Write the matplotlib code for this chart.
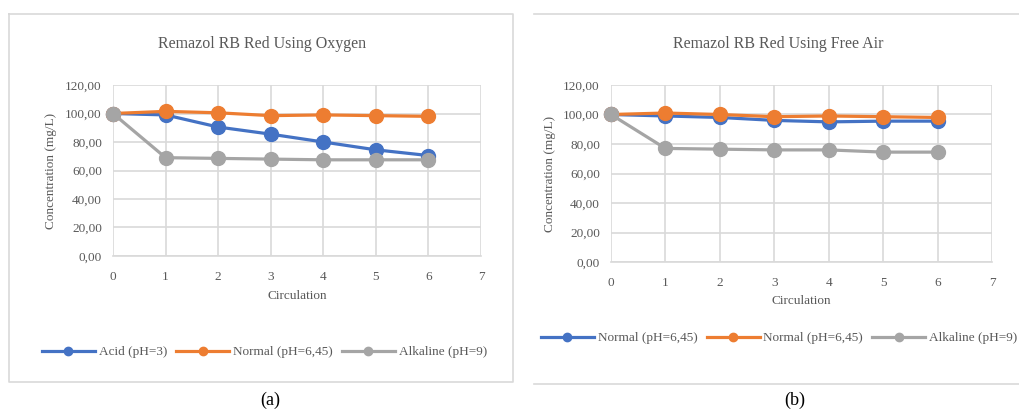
import matplotlib
matplotlib.use("Agg")
import matplotlib.pyplot as plt
from matplotlib.lines import Line2D

# --- données ---
circulation = [0, 1, 2, 3, 4, 5, 6]

oxy_acid = [100.0, 99.0, 90.5, 85.5, 80.0, 74.5, 70.5]
oxy_normal = [100.0, 101.5, 100.5, 98.5, 99.0, 98.5, 98.0]
oxy_alkaline = [100.0, 69.0, 68.5, 68.0, 67.5, 67.5, 67.5]

air_normal_blue = [100.0, 99.0, 98.0, 96.0, 95.0, 95.5, 95.5]
air_normal = [100.0, 101.0, 100.0, 98.5, 99.0, 98.5, 98.0]
air_alkaline = [100.0, 77.0, 76.5, 76.0, 76.0, 74.5, 74.5]

labels_a = ["Acid (pH=3)", "Normal (pH=6,45)", "Alkaline (pH=9)"]
labels_b = ["Normal (pH=6,45)", "Normal (pH=6,45)", "Alkaline (pH=9)"]
titles = ["Remazol RB Red Using Oxygen", "Remazol RB Red Using Free Air"]
yticks = [0, 20, 40, 60, 80, 100, 120]
ytick_labels = ["0,00", "20,00", "40,00", "60,00", "80,00", "100,00", "120,00"]
xticks = [0, 1, 2, 3, 4, 5, 6, 7]

couleurs = ["#4472C4", "#ED7D31", "#A5A5A5"]
gris_texte = "#595959"
gris_grille = "#D9D9D9"

plt.rcParams["font.family"] = ["Liberation Serif", "DejaVu Serif"]

fig = plt.figure(figsize=(10.19, 4.12), dpi=100)
W, H = 1019.0, 412.0


def fx(px):
    return px / W


def fy(py):
    return 1 - py / H


# cadres des graphiques (style Excel)
cadre = dict(color=gris_grille, lw=1.2, transform=fig.transFigure)
fig.add_artist(Line2D([fx(9), fx(513), fx(513), fx(9), fx(9)],
                      [fy(14), fy(14), fy(382), fy(382), fy(14)], **cadre))
fig.add_artist(Line2D([fx(534), fx(1019)], [fy(14), fy(14)], **cadre))
fig.add_artist(Line2D([fx(534), fx(1019)], [fy(384), fy(384)], **cadre))


def tracer(pos, series, labels, titre, title_xy, legend_xy, xlabel_y, ylabel_x):
    ax = fig.add_axes(pos)
    for y, c in zip(series, couleurs):
        ax.plot(circulation, y, "-o", color=c, lw=2.3, markersize=10,
                solid_capstyle="round", zorder=3, clip_on=False)
    ax.set_xlim(0, 7)
    ax.set_ylim(0, 120)
    ax.set_xticks(xticks)
    ax.set_yticks(yticks)
    ax.set_yticklabels(ytick_labels)
    ax.tick_params(length=0, labelsize=9.5, colors=gris_texte)
    ax.tick_params(axis="y", pad=8)
    ax.tick_params(axis="x", pad=11)
    ax.grid(True, color=gris_grille, lw=1.2)
    ax.set_axisbelow(True)
    for s in ["top", "right", "left"]:
        ax.spines[s].set_visible(False)
    ax.spines["bottom"].set_color(gris_grille)
    ax.spines["bottom"].set_linewidth(1.2)
    fig.text(title_xy[0], title_xy[1], titre, ha="center", va="center",
             fontsize=11.5, color=gris_texte)
    fig.text(ax.get_position().x0 + ax.get_position().width / 2, xlabel_y,
             "Circulation", ha="center", va="center", fontsize=9.5, color=gris_texte)
    fig.text(ylabel_x, ax.get_position().y0 + ax.get_position().height / 2,
             "Concentration (mg/L)", ha="center", va="center", rotation=90,
             fontsize=9.5, color=gris_texte)
    handles = [Line2D([], [], color=c, lw=2.3, marker="o", markersize=6)
               for c in couleurs]
    fig.legend(handles, labels, loc="center left", bbox_to_anchor=legend_xy,
               ncol=3, frameon=False, fontsize=9.5, handlelength=4.0,
               handletextpad=0.3, columnspacing=0.7, labelcolor=gris_texte,
               borderaxespad=0, borderpad=0)
    return ax


tracer([fx(113), fy(256), fx(481 - 113), (256 - 85) / H],
       [oxy_acid, oxy_normal, oxy_alkaline], labels_a, titles[0],
       (fx(262), fy(44)), (fx(42), fy(352)), fy(296), fx(51))

tracer([fx(611), fy(262), fx(992 - 611), (262 - 85) / H],
       [air_normal_blue, air_normal, air_alkaline], labels_b, titles[1],
       (fx(778), fy(44)), (fx(541), fy(338)), fy(301), fx(550))

fig.text(fx(270), fy(400), "(a)", ha="center", va="center", fontsize=13, color="black")
fig.text(fx(795), fy(400), "(b)", ha="center", va="center", fontsize=13, color="black")

fig.savefig("out.png", dpi=100)
